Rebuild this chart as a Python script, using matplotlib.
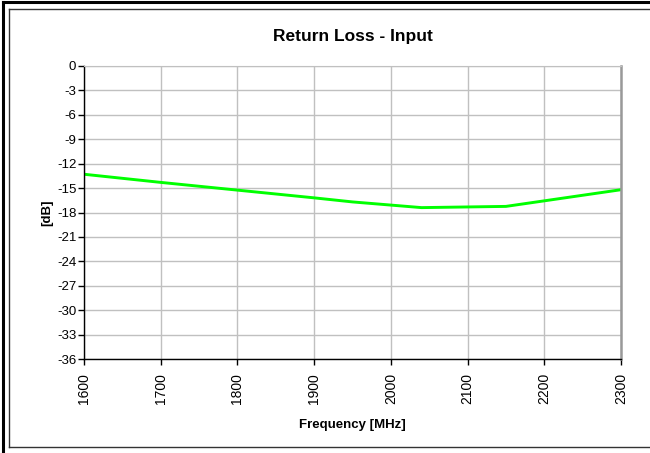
import matplotlib
matplotlib.use("Agg")
import matplotlib.pyplot as plt
from matplotlib.lines import Line2D

plt.rcParams['font.family'] = ['Liberation Sans', 'DejaVu Sans']

freq = [1600, 1700, 1800, 1900, 1950, 2040, 2150, 2300]
return_loss = [-13.3, -14.3, -15.25, -16.2, -16.7, -17.4, -17.25, -15.2]
x_ticks = [1600, 1700, 1800, 1900, 2000, 2100, 2200, 2300]
y_ticks = [0, -3, -6, -9, -12, -15, -18, -21, -24, -27, -30, -33, -36]

W, H = 650, 453
fig = plt.figure(figsize=(6.5, 4.53), dpi=100)

ax = fig.add_axes([84 / W, 1 - 359 / H, (621 - 84) / W, (359 - 66) / H])
ax.plot(freq, return_loss, color='#00ff00', linewidth=2.1, solid_joinstyle='miter')
ax.set_xlim(1600, 2300)
ax.set_ylim(-36, 0)
ax.set_xticks(x_ticks)
ax.set_yticks(y_ticks)
ax.set_xticklabels([str(v) for v in x_ticks], rotation=90, fontsize=10)
ax.set_yticklabels([str(v) for v in y_ticks], fontsize=9.5)
ax.grid(True, color='#c0c0c0', linewidth=1.0)
ax.set_axisbelow(True)
for s in ['left', 'bottom']:
    ax.spines[s].set_color('black')
    ax.spines[s].set_linewidth(1.0)
ax.spines['top'].set_color('#c0c0c0')
ax.spines['right'].set_color('#999999')
ax.spines['right'].set_linewidth(1.8)
ax.tick_params(axis='both', direction='out', length=4, width=1.0, color='black')
ax.tick_params(axis='x', pad=6)
ax.tick_params(axis='y', pad=1.5)

ax.set_xlabel('Frequency [MHz]', fontsize=9.5, fontweight='bold', labelpad=11)
ax.set_ylabel('[dB]', fontsize=9.5, fontweight='bold', labelpad=3)
fig.text(352.5 / W, 1 - 36 / H, 'Return Loss - Input', ha='center', va='center',
         fontsize=12.5, fontweight='bold')

# inner chart frame
fig.add_artist(Line2D([8.5 / W, 8.5 / W], [1 - 447 / H, 1 - 9 / H], color='#333333', linewidth=1.0, transform=fig.transFigure))
fig.add_artist(Line2D([8.5 / W, 1.0], [1 - 9 / H, 1 - 9 / H], color='#333333', linewidth=1.0, transform=fig.transFigure))
fig.add_artist(Line2D([8.5 / W, 1.0], [1 - 447 / H, 1 - 447 / H], color='#333333', linewidth=1.0, transform=fig.transFigure))
# outer black border
fig.add_artist(Line2D([3 / W, 3 / W], [0, 1 - 2 / H], color='black', linewidth=2.2, transform=fig.transFigure))
fig.add_artist(Line2D([3 / W, 1.0], [1 - 2 / H, 1 - 2 / H], color='black', linewidth=2.2, transform=fig.transFigure))

fig.savefig('out.png', dpi=100)
